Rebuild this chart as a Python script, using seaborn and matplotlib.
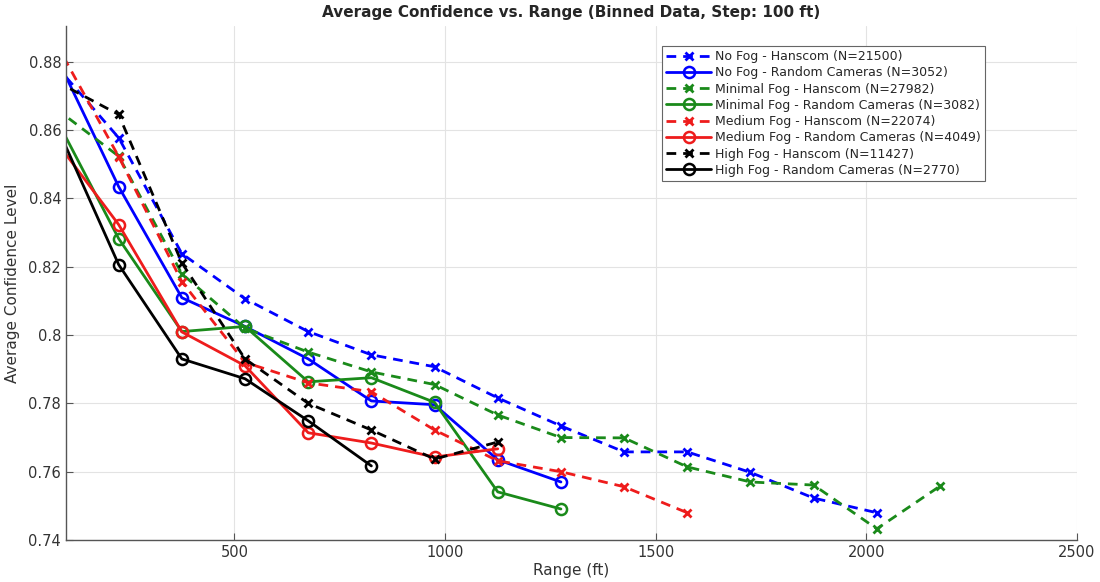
import numpy as np
import matplotlib
matplotlib.use("Agg")
import matplotlib.pyplot as plt
import matplotlib.ticker as mticker
import pandas as pd
import seaborn as sns

# bin centres (ft)
ranges = [75, 225, 375, 525, 675, 825, 975, 1125, 1275, 1425, 1575, 1725, 1875, 2025, 2175]

# average confidence per bin
nofog_hanscom = [0.879, 0.8577, 0.8238, 0.8106, 0.801, 0.7942, 0.7907, 0.7816, 0.7734, 0.7658,
                 0.7658, 0.7598, 0.7523, 0.748]
nofog_random = [0.882, 0.8434, 0.8109, 0.8025, 0.793, 0.7807, 0.7796, 0.7635, 0.757]
minfog_hanscom = [0.8663, 0.8523, 0.8179, 0.802, 0.795, 0.7892, 0.7855, 0.7766, 0.770, 0.7699,
                  0.7614, 0.757, 0.7561, 0.7433, 0.7558]
minfog_random = [0.8637, 0.8282, 0.801, 0.8025, 0.7863, 0.7875, 0.7803, 0.7541, 0.7491]
medfog_hanscom = [0.8856, 0.8522, 0.8156, 0.792, 0.786, 0.7834, 0.7722, 0.7632, 0.760, 0.7556, 0.748]
medfog_random = [0.8569, 0.8323, 0.8009, 0.791, 0.7714, 0.7684, 0.7643, 0.7667]
highfog_hanscom = [0.8743, 0.8645, 0.8211, 0.793, 0.780, 0.7722, 0.7637, 0.7687]
highfog_random = [0.8619, 0.8206, 0.793, 0.7872, 0.7749, 0.7617]

labels = ["No Fog - Hanscom (N=21500)", "No Fog - Random Cameras (N=3052)",
          "Minimal Fog - Hanscom (N=27982)", "Minimal Fog - Random Cameras (N=3082)",
          "Medium Fog - Hanscom (N=22074)", "Medium Fog - Random Cameras (N=4049)",
          "High Fog - Hanscom (N=11427)", "High Fog - Random Cameras (N=2770)"]
series = [nofog_hanscom, nofog_random, minfog_hanscom, minfog_random,
          medfog_hanscom, medfog_random, highfog_hanscom, highfog_random]
colors = ["#0000ff", "#0000ff", "#1a8a1a", "#1a8a1a", "#ee1c1c", "#ee1c1c", "#000000", "#000000"]

sns.set_style("whitegrid")
plt.rcParams['font.family'] = ['DejaVu Sans']

fig = plt.figure(figsize=(11, 5.82), dpi=100)
ax = fig.add_axes([0.06, 0.072, 0.919, 0.884])

for i, (lab, vals, col) in enumerate(zip(labels, series, colors)):
    df = pd.DataFrame({"Range": ranges[:len(vals)], "Conf": vals})
    if i % 2 == 0:
        # Hanscom: dashed with x markers
        sns.lineplot(data=df, x="Range", y="Conf", ax=ax, color=col, label=lab,
                     linestyle=(0, (3.5, 2.5)), linewidth=2, marker="x", markersize=5.5,
                     markeredgewidth=2, markeredgecolor=col)
    else:
        # random cameras: solid with open circles
        sns.lineplot(data=df, x="Range", y="Conf", ax=ax, color=col, label=lab,
                     linestyle="-", linewidth=2, marker="o", markersize=8,
                     markerfacecolor="none", markeredgewidth=1.8, markeredgecolor=col)

ax.set_xlim(100, 2500)
ax.set_ylim(0.74, 0.8905)
ax.set_xticks([500, 1000, 1500, 2000, 2500])
ax.set_yticks(np.arange(0.74, 0.881, 0.02))
ax.yaxis.set_major_formatter(mticker.FuncFormatter(lambda v, p: f"{v:.2f}".rstrip('0')))

ax.grid(True, color="#e3e3e3", linewidth=0.8)
for side in ["top", "right"]:
    ax.spines[side].set_visible(False)
for side in ["left", "bottom"]:
    ax.spines[side].set_color("#555555")
    ax.spines[side].set_linewidth(1.0)
ax.tick_params(direction="in", length=5, width=0.8, colors="#555555", labelcolor="#333333",
               labelsize=10.5, left=True, bottom=True)

ax.set_xlabel("Range (ft)", fontsize=11, color="#333333", labelpad=2)
ax.set_ylabel("Average Confidence Level", fontsize=11, color="#333333", labelpad=6)
ax.set_title("Average Confidence vs. Range (Binned Data, Step: 100 ft)",
             fontsize=11, fontweight="bold", pad=6)

leg = ax.legend(loc="upper right", bbox_to_anchor=(0.909, 0.961), borderaxespad=0, fontsize=9,
                frameon=True, fancybox=False, framealpha=1, edgecolor="#666666",
                handlelength=3.6, borderpad=0.35, labelspacing=0.26, handletextpad=0.3)
leg.get_frame().set_linewidth(0.8)

fig.savefig("out.png", dpi=100)
